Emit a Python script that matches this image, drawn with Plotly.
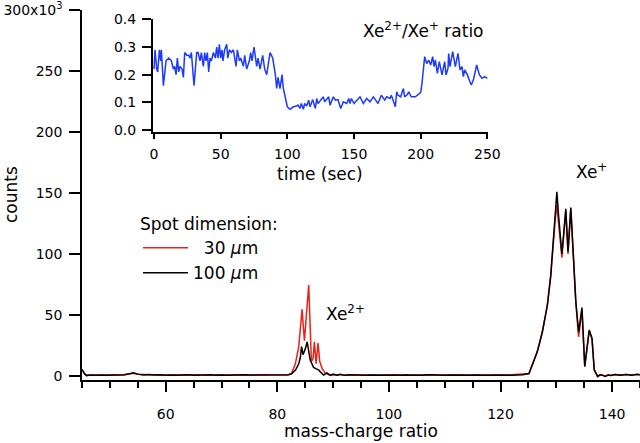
import plotly.graph_objects as go

# ---------------- data ----------------
baseline_mz_a = [46.5, 47.5, 48.5, 49.5, 50.5, 51.5, 52.5, 53.5, 54.2, 55.0, 56, 57, 58, 59, 60, 61, 62, 63, 64,
                 65, 66, 67, 68, 69, 70, 71, 72, 73, 74, 75, 76, 77, 78, 79, 80, 81]
baseline_mid_mz = [90.0, 90.7, 91.3, 92, 93, 94, 95, 96, 97, 98, 99, 100, 101, 102, 103, 104, 105, 106, 107, 108,
                   109, 110, 111, 112, 113, 114, 115, 116, 117, 118, 119, 120, 121, 122, 123, 124]
tail_mz = [137.9, 138.3, 138.8, 139.3, 139.8, 140.5, 141.5, 142.5, 143.5, 144.5, 145]

# 100 um spot (black)
mz_100 = ([45.0, 45.4, 45.8] + baseline_mz_a +
          [82.0, 82.6, 83.3, 83.84, 84.1, 84.35, 84.6, 85.0, 85.35, 85.9, 86.5, 86.9, 87.4, 87.9, 88.3, 88.9, 89.5] +
          baseline_mid_mz +
          [125.1, 125.7, 126.6, 127.5, 128.4, 129.0, 129.4, 129.8, 130.1, 130.4, 131.0, 131.7, 132.1, 132.6,
           133.0, 133.5, 134.0, 134.6, 135.1, 135.9, 136.4, 136.8, 137.4] +
          tail_mz)
counts_100 = ([5.5, 2.0, 0.3] +
              [0.8, 0.5, 0.9, 0.6, 0.8, 0.5, 1.0, 1.8, 2.6, 1.5, 0.8, 1.2, 0.7, 1.0, 0.6, 0.9, 0.5, 0.8, 1.1,
               0.6, 0.9, 0.7, 1.0, 0.6, 0.9, 0.5, 0.8, 0.6, 1.0, 0.7, 0.8, 0.5, 0.9, 0.7, 0.8, 0.9] +
              [1.0, 2.0, 5.0, 10, 14.5, 24, 17.5, 22, 28, 13, 7, 6, 5, 2.5, 0.8, 2.5, 0.5] +
              [1.5, 0.6, 1.4, 0.5, 1.0, 0.7, 1.0, 0.6, 0.9, 0.7, 1.0, 0.6, 0.8, 0.5, 0.9, 0.7, 0.8, 0.6,
               1.0, 0.7, 0.8, 0.6, 0.9, 0.7, 0.8, 0.5, 0.9, 0.7, 0.8, 0.6, 0.9, 0.7, 0.8, 0.6, 0.9, 1.0] +
              [2, 9, 20, 36, 58, 82, 110, 132, 151, 132, 100, 137, 102, 138, 104, 61, 36, 56, 7.6, 37.7, 31, 5,
               -0.5] +
              [1.0, 0.5, -0.3, 0.8, 0.4, 1.2, 0.5, 1.3, 0.6, 1.4, 1.0])

# 30 um spot (red)
mz_30 = ([45.0, 45.4, 45.8] + baseline_mz_a +
         [81.75, 82.5, 83.24, 83.84, 84.1, 84.44, 84.86, 85.2, 85.63, 86.11, 86.4, 86.65, 86.95, 87.3, 87.6,
          88.03, 88.5, 88.93, 89.5] +
         baseline_mid_mz +
         [125.1, 125.7, 126.6, 127.5, 128.4, 129.0, 129.4, 129.8, 130.1, 130.4, 131.0, 131.7, 132.1, 132.6,
          133.0, 133.5, 134.0, 134.6, 135.1, 135.9, 136.4, 136.8, 137.4] +
         tail_mz)
counts_30 = ([5.0, 2.2, 0.5] +
             [0.9, 0.7, 0.8, 0.7, 1.0, 0.6, 0.9, 1.6, 2.2, 1.4, 0.9, 1.0, 0.8, 1.1, 0.7, 0.8, 0.7, 1.0, 0.9,
              0.8, 1.1, 0.6, 0.9, 0.8, 1.0, 0.7, 0.9, 0.8, 1.1, 0.6, 0.9, 0.7, 1.0, 0.8, 0.9, 1.0] +
             [0.8, 1.5, 10, 24, 40, 54.6, 29, 50, 74.6, 12, 14, 28, 10, 27, 12, 6, 3, 1.5, 0.7] +
             [1.0, 0.7, 1.2, 0.6, 0.9, 0.8, 1.1, 0.7, 0.8, 0.9, 0.7, 1.0, 0.8, 0.6, 1.0, 0.8, 0.7, 0.9,
              0.8, 1.0, 0.7, 0.9, 0.8, 0.7, 1.0, 0.8, 0.9, 0.8, 0.7, 1.0, 0.8, 0.9, 0.7, 1.0, 0.8, 1.2] +
             [2, 9, 20, 36, 58, 82, 108, 128, 140, 126, 97, 135, 100, 137, 102, 60, 32, 54, 8, 37, 30, 5, 0] +
             [1.2, 0.6, 0.0, 1.0, 0.5, 1.1, 0.7, 1.2, 0.8, 1.3, 1.1])

# inset: Xe2+/Xe+ ratio vs time
time_sec = [0, 0.75, 2, 2.75, 4, 5, 5.5, 7, 9, 11, 13, 14.5, 15.5, 16.5, 17.5, 18.5, 19.5, 21, 22, 23, 24.5,
            26, 27, 28, 30, 32, 33, 34.5, 35.5, 37, 38, 39, 40, 41, 42, 43, 44.5, 46, 47, 48, 49, 50, 51, 51.7,
            53, 54.5, 55.3, 56.5, 58, 59.5, 61.5, 62.5, 64, 65, 67, 68, 69.5, 71.5, 72.5, 73.5, 75, 77, 78,
            79.5, 81.5, 83, 84.5, 87, 89, 91, 92, 93, 94.5, 96, 97, 98, 100, 102, 104.5, 107, 108, 109.5,
            110.5, 112, 113, 114.5, 116, 117, 119, 121, 122, 123, 125, 127, 128, 130, 131, 132, 134.5, 136,
            138, 140, 142, 144.5, 146, 147, 148, 150, 152, 154.5, 157, 159.5, 162, 164.5, 166, 168, 170.5,
            173, 174.5, 177, 178, 181, 182, 183, 185, 187, 188, 190, 191, 193, 196, 198, 200, 201, 203,
            204.5, 206, 207.5, 209, 210, 211, 212.5, 214, 216, 218, 219, 220.5, 221, 222, 224, 226, 228,
            229.5, 231, 232, 233, 235, 236.5, 238, 239.5, 242, 244, 246, 248, 250]
ratio = [0.22, 0.29, 0.22, 0.21, 0.29, 0.25, 0.29, 0.16, 0.25, 0.26, 0.25, 0.22, 0.23, 0.20, 0.26, 0.21,
         0.23, 0.22, 0.19, 0.28, 0.27, 0.27, 0.26, 0.28, 0.16, 0.28, 0.28, 0.25, 0.28, 0.23, 0.28, 0.25,
         0.28, 0.21, 0.26, 0.25, 0.28, 0.26, 0.30, 0.26, 0.31, 0.26, 0.29, 0.25, 0.29, 0.31, 0.26, 0.29,
         0.28, 0.29, 0.23, 0.29, 0.25, 0.26, 0.23, 0.27, 0.22, 0.25, 0.28, 0.25, 0.30, 0.23, 0.26, 0.22,
         0.27, 0.22, 0.20, 0.28, 0.26, 0.20, 0.15, 0.19, 0.15, 0.20, 0.15, 0.13, 0.084, 0.075, 0.084,
         0.087, 0.09, 0.078, 0.096, 0.075, 0.096, 0.087, 0.108, 0.084, 0.11, 0.078, 0.114, 0.096, 0.11,
         0.12, 0.102, 0.115, 0.12, 0.09, 0.12, 0.108, 0.11, 0.078, 0.102, 0.096, 0.114, 0.096, 0.114,
         0.096, 0.108, 0.12, 0.096, 0.114, 0.102, 0.12, 0.11, 0.096, 0.126, 0.108, 0.12, 0.114, 0.126,
         0.084, 0.138, 0.126, 0.12, 0.15, 0.12, 0.128, 0.138, 0.12, 0.12, 0.126, 0.135, 0.169, 0.265,
         0.24, 0.253, 0.235, 0.265, 0.229, 0.253, 0.205, 0.247, 0.199, 0.247, 0.199, 0.223, 0.276, 0.229,
         0.283, 0.229, 0.277, 0.217, 0.229, 0.193, 0.217, 0.20, 0.18, 0.163, 0.181, 0.235, 0.20, 0.187,
         0.193, 0.187]

main_yticks = [0, 50, 100, 150, 200, 250, 300]
main_yticklabels = ["0", "50", "100", "150", "200", "250", "300x10<sup>3</sup>"]
main_xticks = [60, 80, 100, 120, 140]
inset_xticks = [0, 50, 100, 150, 200, 250]
inset_yticks = [0.0, 0.1, 0.2, 0.3, 0.4]

FONT = "DejaVu Sans"
RED = "rgb(236,32,24)"
BLACK = "black"
BLUE = "rgb(28,58,250)"

fig = go.Figure()
fig.add_trace(go.Scatter(x=mz_30, y=counts_30, mode="lines", name="\u200730 <i>\u03bc</i>m",
                         line=dict(color=RED, width=1.5)))
fig.add_trace(go.Scatter(x=mz_100, y=counts_100, mode="lines", name="100 <i>\u03bc</i>m",
                         line=dict(color=BLACK, width=1.5)))
fig.add_trace(go.Scatter(x=time_sec, y=ratio, mode="lines", showlegend=False,
                         line=dict(color=BLUE, width=1.5), xaxis="x2", yaxis="y2"))

W, H = 640, 443
L, R, T, B = 82, 0, 10, 63
pw, ph = W - L - R, H - T - B


def px(x):
    return (x - L) / pw


def py(y):
    return (H - B - y) / ph


axis_common = dict(showline=True, linecolor="black", linewidth=1.5, ticks="outside", tickcolor="black",
                   tickwidth=1.5, showgrid=False, zeroline=False, automargin=False,
                   tickfont=dict(family=FONT, size=14, color="black"))

fig.update_layout(
    width=W, height=H, autosize=False,
    margin=dict(l=L, r=R, t=T, b=B, pad=0, autoexpand=False),
    paper_bgcolor="white", plot_bgcolor="white",
    font=dict(family=FONT, size=17, color="black"),
    xaxis=dict(range=[45, 145], tickvals=main_xticks, ticklen=10, ticklabelstandoff=10,
               minor=dict(tick0=45, dtick=5, ticks="outside", ticklen=6, tickcolor="black", tickwidth=1.5),
               **axis_common),
    yaxis=dict(range=[-3.3, 300], tickvals=main_yticks, ticktext=main_yticklabels, ticklen=11,
               ticklabelstandoff=4, **axis_common),
    xaxis2=dict(domain=[px(152.7), px(488)], range=[-1, 250.5], anchor="y2", tickvals=inset_xticks,
                ticklen=5, ticklabelstandoff=3, **axis_common),
    yaxis2=dict(domain=[py(132), py(19.3)], range=[-0.007, 0.4], anchor="x2", tickvals=inset_yticks,
                tickformat=".1f", ticklen=9, ticklabelstandoff=3, **axis_common),
    legend=dict(x=px(138), y=py(208), xanchor="left", yanchor="top", bgcolor="rgba(0,0,0,0)",
                title=dict(text="Spot dimension:", font=dict(family=FONT, size=17)),
                font=dict(family=FONT, size=17), itemwidth=45, tracegroupgap=0),
    showlegend=True,
)

fig.add_annotation(text="counts", xref="paper", yref="paper", x=px(11), y=0.5, textangle=-90,
                   showarrow=False, font=dict(family=FONT, size=17), xanchor="center", yanchor="middle")
fig.add_annotation(text="mass-charge ratio", xref="paper", yref="paper", x=0.5, y=py(431),
                   showarrow=False, font=dict(family=FONT, size=17), xanchor="center", yanchor="middle")
fig.add_annotation(text="time (sec)", xref="paper", yref="paper", x=px(320), y=py(174),
                   showarrow=False, font=dict(family=FONT, size=17), xanchor="center", yanchor="middle")
fig.add_annotation(text="Xe<sup>2+</sup>", xref="x", yref="y", x=88.3, y=52, xanchor="left", yanchor="middle",
                   showarrow=False, font=dict(family=FONT, size=17))
fig.add_annotation(text="Xe<sup>+</sup>", xref="x", yref="y", x=133.2, y=168, xanchor="left",
                   yanchor="middle", showarrow=False, font=dict(family=FONT, size=17))
fig.add_annotation(text="Xe<sup>2+</sup>/Xe<sup>+</sup> ratio", xref="x2", yref="y2", x=249, y=0.362,
                   xanchor="right", yanchor="middle", showarrow=False, font=dict(family=FONT, size=17))

# remove the browser's default page margin so the figure sits at the window's top-left corner
fig.write_html("out.html", config={"responsive": False, "displayModeBar": False},
               post_script="document.body.style.margin='0';document.body.style.overflow='hidden';")
